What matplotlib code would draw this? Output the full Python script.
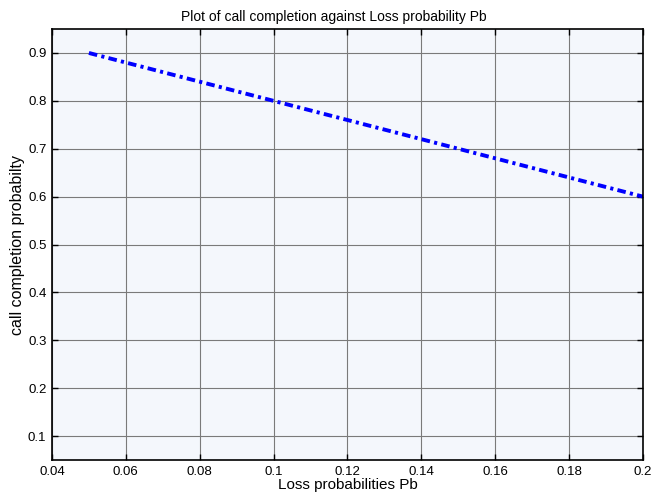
import matplotlib
matplotlib.use("Agg")
import matplotlib.pyplot as plt

# Data
loss_pb = [0.05, 0.10, 0.15, 0.20]
completion = [0.90, 0.80, 0.70, 0.60]

xticks = [0.04, 0.06, 0.08, 0.1, 0.12, 0.14, 0.16, 0.18, 0.2]
xticklabels = ["0.04", "0.06", "0.08", "0.1", "0.12", "0.14", "0.16", "0.18", "0.2"]
yticks = [0.1, 0.2, 0.3, 0.4, 0.5, 0.6, 0.7, 0.8, 0.9]
yticklabels = ["0.1", "0.2", "0.3", "0.4", "0.5", "0.6", "0.7", "0.8", "0.9"]

plt.rcParams["font.family"] = ["Liberation Sans", "DejaVu Sans"]

fig = plt.figure(figsize=(6.62, 4.97), dpi=100)
ax = fig.add_axes([0.0785, 0.0744, 0.8928, 0.8672])
ax.set_facecolor("#f4f7fc")

ax.plot(loss_pb, completion, color="#0000ff", linestyle="-.", linewidth=2.8,
        dashes=(2.2, 1.1, 0.8, 1.1))

ax.set_xlim(0.04, 0.2)
ax.set_ylim(0.05, 0.95)
ax.set_xticks(xticks)
ax.set_xticklabels(xticklabels)
ax.set_yticks(yticks)
ax.set_yticklabels(yticklabels)

ax.grid(True, color="#7a7a7a", linewidth=0.8)
ax.tick_params(direction="in", top=True, right=True, length=4, width=1,
               labelsize=9.5, colors="black", pad=4)
for s in ax.spines.values():
    s.set_linewidth(1.2)
    s.set_color("black")

ax.set_xlabel("Loss probabilities Pb", fontsize=11, labelpad=0)
ax.set_ylabel("call completion probabilty", fontsize=11.5, labelpad=2)
ax.set_title("Plot of call completion against Loss probability Pb", fontsize=10,
             pad=6, x=0.477)

fig.savefig("out.png", dpi=100)
